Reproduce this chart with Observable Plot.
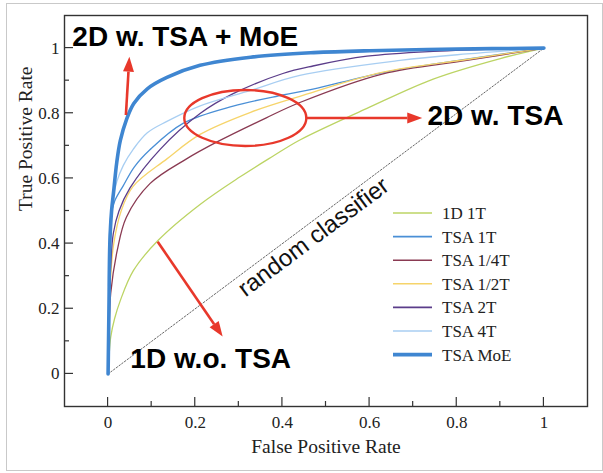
<!DOCTYPE html>
<html><head><meta charset="utf-8">
<script src="https://cdn.jsdelivr.net/npm/d3@7"></script>
<script src="https://cdn.jsdelivr.net/npm/@observablehq/plot@0.6"></script>
<style>
html,body{margin:0;padding:0;background:#fff;}
</style></head><body>
<div id="chart"></div>
<script>
// ---- data ----
const seriesNames = ["1D 1T","TSA 1T","TSA 1/4T","TSA 1/2T","TSA 2T","TSA 4T","TSA MoE"];
const seriesColors = ["#bcd464","#4a8fd6","#8a3a52","#f6d46a","#5b3d8a","#a8cef2","#3f86d1"];

const fpr_1D1T = [0,0.002,0.006,0.015,0.028,0.058,0.115,0.211,0.303,0.378,0.44,0.594,0.746,0.9,1];
const tpr_1D1T = [0,0.05,0.113,0.17,0.225,0.317,0.41,0.52,0.605,0.668,0.718,0.815,0.905,0.968,1];

const fpr_TSA1T = [0,0.002,0.006,0.015,0.035,0.06,0.096,0.172,0.287,0.401,0.47,0.631,0.823,1];
const tpr_TSA1T = [0,0.3,0.48,0.53,0.578,0.635,0.688,0.769,0.822,0.856,0.874,0.925,0.966,1];

const fpr_TSAq = [0,0.002,0.006,0.021,0.042,0.096,0.18,0.25,0.363,0.44,0.631,0.823,1];
const tpr_TSAq = [0,0.12,0.247,0.379,0.481,0.584,0.66,0.712,0.786,0.833,0.921,0.962,1];

const fpr_TSAh = [0,0.002,0.006,0.013,0.03,0.057,0.135,0.211,0.327,0.44,0.631,0.823,1];
const tpr_TSAh = [0,0.18,0.3,0.4,0.5,0.575,0.66,0.735,0.803,0.852,0.926,0.965,1];

const fpr_TSA2T = [0,0.002,0.006,0.012,0.025,0.05,0.12,0.211,0.287,0.401,0.47,0.594,0.746,1];
const tpr_TSA2T = [0,0.2,0.33,0.431,0.5,0.57,0.69,0.799,0.86,0.922,0.945,0.975,0.99,1];

const fpr_TSA4T = [0,0.002,0.004,0.01,0.02,0.035,0.058,0.09,0.135,0.21,0.327,0.44,0.67,0.823,1];
const tpr_TSA4T = [0,0.35,0.45,0.53,0.59,0.64,0.69,0.74,0.775,0.822,0.87,0.916,0.962,0.982,1];

const fpr_MoE = [0,0.002,0.004,0.008,0.013,0.02,0.028,0.042,0.059,0.09,0.135,0.211,0.327,0.472,0.6,0.8,1];
const tpr_MoE = [0,0.2,0.4,0.5,0.563,0.65,0.716,0.78,0.83,0.875,0.91,0.947,0.972,0.986,0.992,0.997,1];

const diagX = [0,1];
const diagY = [0,1];

const xMajor = [0,0.2,0.4,0.6,0.8,1];
const xMinor = [0.1,0.3,0.5,0.7,0.9];
const yMajor = [0,0.2,0.4,0.6,0.8,1];
const yMinor = [0.1,0.3,0.5,0.7,0.9];

const xLabel = "False Positive Rate";
const yLabel = "True Positive Rate";

// annotations (data coordinates)
const annoTexts = ["2D w. TSA + MoE","2D w. TSA","1D w.o. TSA"];
const annoX = [-0.082,0.733,0.051];
const annoY = [1.005,0.763,0.017];
const arrowX1 = [0.042,0.455,0.115];
const arrowY1 = [0.793,0.784,0.404];
const arrowX2 = [0.05,0.722,0.264];
const arrowY2 = [0.972,0.784,0.113];
const ellipseC = [0.316,0.784];
const ellipseR = [0.14,0.086];
const diagText = "random classifier";
const diagTextAt = [0.453];

// ---- build table ----
const seriesFpr = [fpr_1D1T,fpr_TSA1T,fpr_TSAq,fpr_TSAh,fpr_TSA2T,fpr_TSA4T,fpr_MoE];
const seriesTpr = [tpr_1D1T,tpr_TSA1T,tpr_TSAq,tpr_TSAh,tpr_TSA2T,tpr_TSA4T,tpr_MoE];
const rows = [];
seriesNames.forEach((s,i)=>seriesFpr[i].forEach((f,j)=>rows.push({series:s,fpr:f,tpr:seriesTpr[i][j]})));
const thinRows = rows.filter(d=>d.series!=="TSA MoE");
const moeRows = rows.filter(d=>d.series==="TSA MoE");
const diag = diagX.map((x,i)=>({x, y: diagY[i]}));
const annos = annoTexts.map((t,i)=>({t, x: annoX[i], y: annoY[i]}));
const arrows = arrowX1.map((x1,i)=>({x1, y1: arrowY1[i], x2: arrowX2[i], y2: arrowY2[i]}));

const RED = "#e8382b";

function innerTicks(index, scales, values, dims) {
  const {x, y} = scales;
  const g = d3.create("svg:g").attr("stroke","#333").attr("stroke-width",1.2).attr("fill","none");
  const yb = dims.height - dims.marginBottom, xl = dims.marginLeft;
  for (const t of xMajor) g.append("line").attr("x1",x(t)).attr("x2",x(t)).attr("y1",yb).attr("y2",yb-9);
  for (const t of xMinor) g.append("line").attr("x1",x(t)).attr("x2",x(t)).attr("y1",yb).attr("y2",yb-5);
  for (const t of yMajor) g.append("line").attr("y1",y(t)).attr("y2",y(t)).attr("x1",xl).attr("x2",xl+9);
  for (const t of yMinor) g.append("line").attr("y1",y(t)).attr("y2",y(t)).attr("x1",xl).attr("x2",xl+5);
  return g.node();
}

function annotationLayer(index, scales, values, dims) {
  const {x, y} = scales;
  const g = d3.create("svg:g");
  g.append("ellipse")
    .attr("cx", x(ellipseC[0])).attr("cy", y(ellipseC[1]))
    .attr("rx", x(ellipseC[0]+ellipseR[0]) - x(ellipseC[0]))
    .attr("ry", y(ellipseC[1]) - y(ellipseC[1]+ellipseR[1]))
    .attr("fill","none").attr("stroke",RED).attr("stroke-width",2.4);
  for (const a of arrows) {
    const px1 = x(a.x1), py1 = y(a.y1), px2 = x(a.x2), py2 = y(a.y2);
    const ang = Math.atan2(py2-py1, px2-px1);
    const L = 15, Wd = 5.5;
    const bx = px2 - L*Math.cos(ang), by = py2 - L*Math.sin(ang);
    g.append("line").attr("x1",px1).attr("y1",py1).attr("x2",bx).attr("y2",by)
      .attr("stroke",RED).attr("stroke-width",2.6);
    const nx = -Math.sin(ang), ny = Math.cos(ang);
    g.append("polygon")
      .attr("points", `${px2},${py2} ${bx+nx*Wd},${by+ny*Wd} ${bx-nx*Wd},${by-ny*Wd}`)
      .attr("fill",RED);
  }
  return g.node();
}

function legendLayer(index, scales, values, dims) {
  const g = d3.create("svg:g");
  const x0 = dims.width - dims.marginRight - 194;
  const y0 = dims.marginTop + 198;
  seriesNames.forEach((name,i)=>{
    const yy = y0 + i*23.6;
    g.append("line").attr("x1",x0).attr("x2",x0+39).attr("y1",yy).attr("y2",yy)
      .attr("stroke",seriesColors[i]).attr("stroke-width", name==="TSA MoE" ? 3.6 : 1.6);
    g.append("text").attr("x",x0+49).attr("y",yy).attr("dy","0.35em")
      .attr("text-anchor","start")
      .attr("font-family","'Liberation Serif', serif").attr("font-size",17).attr("fill","#222")
      .text(name);
  });
  return g.node();
}

function outerBorder(index, scales, values, dims) {
  return d3.create("svg:rect").attr("x",6.5).attr("y",3.5).attr("width",596).attr("height",467)
    .attr("fill","none").attr("stroke","#c9c9c9").attr("stroke-width",1).node();
}

const plot = Plot.plot({
  width: 603, height: 473,
  marginLeft: 64, marginRight: 16, marginTop: 15, marginBottom: 67,
  x: {domain: [-0.1, 1.1]},
  y: {domain: [-0.1, 1.1]},
  color: {domain: seriesNames, range: seriesColors},
  style: {fontFamily: "'Liberation Serif', serif", fontSize: "17px", color: "#222", background: "#fff", overflow: "visible"},
  marks: [
    outerBorder,
    Plot.line(diag, {x:"x", y:"y", stroke:"#555", strokeWidth:0.9, strokeDasharray:"1.6,1.8"}),
    Plot.text([diagText], {x:diagTextAt, y:diagTextAt, text: d=>d, rotate:-36.8, dx:8, dy:10.8, fontFamily:"'Liberation Sans', Arial, sans-serif", fontSize:24, fill:"#111", lineAnchor:"middle", textAnchor:"middle"}),
    Plot.line(thinRows, {x:"fpr", y:"tpr", z:"series", stroke:"series", strokeWidth:1.3, curve:"catmull-rom"}),
    Plot.line(moeRows, {x:"fpr", y:"tpr", stroke:"series", strokeWidth:3.6, curve:"catmull-rom"}),
    Plot.frame({stroke:"#333", strokeWidth:1.4}),
    Plot.axisX({ticks: xMajor, tickSize:0, tickPadding:9, label:null, tickFormat: d3.format("~g"), fontSize:17}),
    Plot.axisY({ticks: yMajor, tickSize:0, tickPadding:5, label:null, tickFormat: d3.format("~g"), fontSize:17}),
    innerTicks,
    Plot.text([xLabel], {frameAnchor:"bottom", text:d=>d, dy:46, lineAnchor:"bottom", fontSize:19.5, fill:"#222"}),
    Plot.text([yLabel], {frameAnchor:"left", text:d=>d, dx:-33, rotate:-90, lineAnchor:"bottom", fontSize:19.5, fill:"#222"}),
    legendLayer,
    annotationLayer,
    Plot.text(annos, {x:"x", y:"y", text:"t", textAnchor:"start", lineAnchor:"bottom", fontFamily:"'Liberation Sans', Arial, sans-serif", fontWeight:"bold", fontSize:28, fill:"#000"})
  ]
});
document.getElementById("chart").appendChild(plot);
</script>
</body></html>
